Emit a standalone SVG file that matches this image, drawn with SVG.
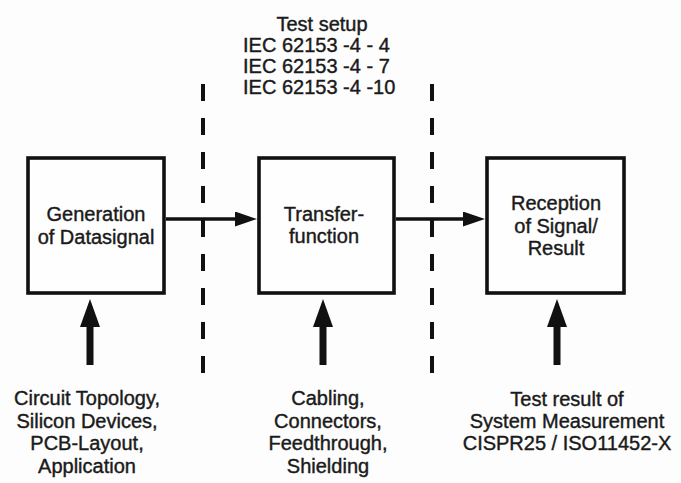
<svg xmlns="http://www.w3.org/2000/svg" width="681" height="483" viewBox="0 0 681 483">
  <defs>
    <marker id="hArrow" markerUnits="userSpaceOnUse" markerWidth="22" markerHeight="15" refX="3" refY="7.5" orient="auto">
      <path d="M0,0 L22,7.5 L0,15 Z" fill="#111"/>
    </marker>
    <marker id="vArrow" markerUnits="userSpaceOnUse" markerWidth="28" markerHeight="20" refX="2" refY="10" orient="auto">
      <path d="M0,0 L28,10 L0,20 Z" fill="#111"/>
    </marker>
  </defs>
  <style>
    .box { fill: #fefefe; stroke: #111; stroke-width: 3.6; }
    .t { font-family: "Liberation Sans", Arial, sans-serif; font-size: 20px; fill: #1a1a1a; stroke: #1a1a1a; stroke-width: 0.4; text-anchor: middle; }
    .tl { text-anchor: start; }
    .dash { stroke: #111; stroke-width: 4; stroke-dasharray: 17 17; fill: none; }
    .h { stroke: #111; stroke-width: 3.5; fill: none; marker-end: url(#hArrow); }
    .v { stroke: #111; stroke-width: 7; fill: none; marker-end: url(#vArrow); }
  </style>
  <rect width="681" height="483" fill="#fdfdfd"/>

  <g id="test-setup">
    <text class="t" x="322" y="31">Test setup</text>
    <text class="t tl" x="243" y="52">IEC 62153 -4 - 4</text>
    <text class="t tl" x="243" y="73">IEC 62153 -4 - 7</text>
    <text class="t tl" x="243" y="94">IEC 62153 -4 -10</text>
  </g>

  <g id="separators">
    <line class="dash" x1="203" y1="84" x2="203" y2="374"/>
    <line class="dash" x1="432" y1="84" x2="432" y2="374"/>
  </g>

  <g id="generation">
    <rect class="box" x="28" y="158" width="136" height="135"/>
    <text class="t" x="96" y="221">Generation</text>
    <text class="t" x="96" y="244">of Datasignal</text>
  </g>

  <g id="transfer">
    <rect class="box" x="259" y="158" width="135" height="135"/>
    <text class="t" x="324" y="220.5">Transfer-</text>
    <text class="t" x="324" y="243">function</text>
  </g>

  <g id="reception">
    <rect class="box" x="487" y="158" width="137" height="135"/>
    <text class="t" x="556" y="210">Reception</text>
    <text class="t" x="556" y="232.5">of Signal/</text>
    <text class="t" x="556" y="255">Result</text>
  </g>

  <g id="connectors">
    <line class="h" x1="166" y1="219" x2="238" y2="219"/>
    <line class="h" x1="396" y1="219" x2="466" y2="219"/>
    <line class="v" x1="90" y1="365" x2="90" y2="325"/>
    <line class="v" x1="323" y1="365" x2="323" y2="325"/>
    <line class="v" x1="557" y1="365" x2="557" y2="325"/>
  </g>

  <g id="influences-left">
    <text class="t" x="87" y="405">Circuit Topology,</text>
    <text class="t" x="87" y="427.5">Silicon Devices,</text>
    <text class="t" x="87" y="450">PCB-Layout,</text>
    <text class="t" x="87" y="472.5">Application</text>
  </g>

  <g id="influences-middle">
    <text class="t" x="328" y="405">Cabling,</text>
    <text class="t" x="328" y="427.5">Connectors,</text>
    <text class="t" x="328" y="450">Feedthrough,</text>
    <text class="t" x="328" y="472.5">Shielding</text>
  </g>

  <g id="influences-right">
    <text class="t" x="567" y="406">Test result of</text>
    <text class="t" x="567" y="428">System Measurement</text>
    <text class="t" x="567" y="450">CISPR25 / ISO11452-X</text>
  </g>
</svg>
